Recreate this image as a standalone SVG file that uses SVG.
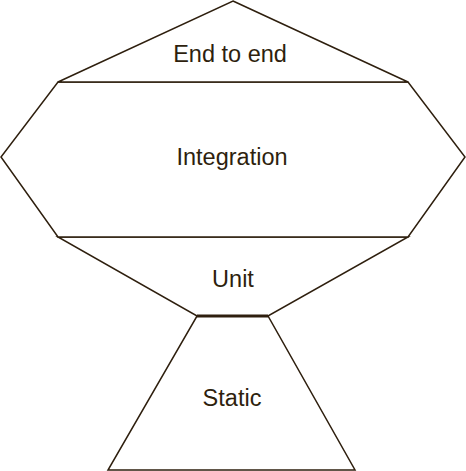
<svg xmlns="http://www.w3.org/2000/svg" width="466" height="471" viewBox="0 0 466 471">
<style>
.shape{fill:#ffffff;stroke:#2e1f0e;stroke-width:1.5;stroke-linejoin:miter}
.lbl{font-family:"Liberation Sans",Arial,sans-serif;font-size:23.5px;fill:#2e1f0e;text-anchor:middle}
</style>
<rect width="466" height="471" fill="#ffffff"/>
<g id="static">
<polygon class="shape" points="197,316 268,316 355,470 108,470"/>
<text class="lbl" x="232" y="406">Static</text>
</g>
<g id="unit">
<polygon class="shape" points="58,237 408,237 268,316 197,316"/>
<line x1="197" y1="316" x2="268" y2="316" stroke="#2e1f0e" stroke-width="3"/>
<text class="lbl" x="233" y="287">Unit</text>
</g>
<g id="integration">
<polygon class="shape" points="58,82 408,82 465,157 408,237 58,237 1,157"/>
<text class="lbl" x="232" y="165">Integration</text>
</g>
<g id="end-to-end">
<polygon class="shape" points="233,1 408,82 58,82"/>
<text class="lbl" x="230" y="62">End to end</text>
</g>
<g id="connectors"/>
</svg>
